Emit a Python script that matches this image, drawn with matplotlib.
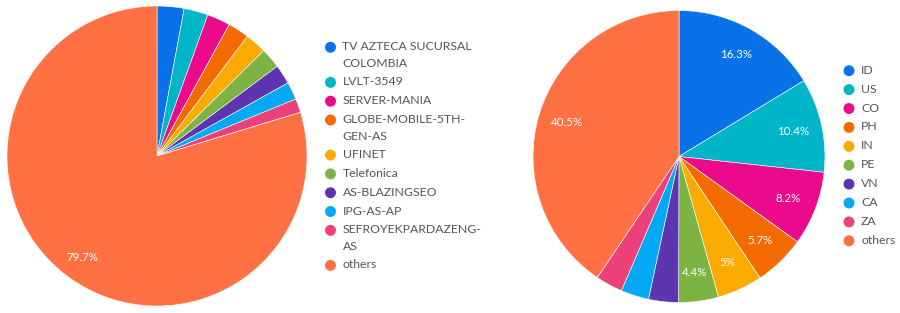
import matplotlib.pyplot as plt

# data: left pie (share of ASNs)
asn_labels = ['TV AZTECA SUCURSAL\nCOLOMBIA', 'LVLT-3549', 'SERVER-MANIA', 'GLOBE-MOBILE-5TH-\nGEN-AS',
              'UFINET', 'Telefonica', 'AS-BLAZINGSEO', 'IPG-AS-AP', 'SEFROYEKPARDAZENG-\nAS', 'others']
asn_values = [2.9, 2.6, 2.5, 2.3, 2.3, 2.2, 2.1, 1.9, 1.5, 79.7]

# data: right pie (share of countries)
country_labels = ['ID', 'US', 'CO', 'PH', 'IN', 'PE', 'VN', 'CA', 'ZA', 'others']
country_values = [16.3, 10.4, 8.2, 5.7, 5.0, 4.4, 3.3, 3.1, 3.0, 40.5]

colors = ['#0a72e8', '#00b5c8', '#ec0a8c', '#f56a00', '#fbab00',
          '#7cb342', '#5e35b1', '#03a9f4', '#ec407a', '#ff7043']

plt.rcParams['font.family'] = ['Lato', 'DejaVu Sans']
W, H = 900, 313
fig = plt.figure(figsize=(W / 100, H / 100), dpi=100)

# legend layer in pixel coordinates
leg = fig.add_axes([0, 0, 1, 1])
leg.set_xlim(0, W)
leg.set_ylim(H, 0)
leg.axis('off')


def pct_labels(values, minimum):
    return ['%g%%' % v if v >= minimum else '' for v in values]


def draw_pie(cx, cy, r, values, pctdist):
    ax = fig.add_axes([(cx - r) / W, (H - cy - r) / H, 2 * r / W, 2 * r / H])
    wedges, texts = ax.pie(values, colors=colors, startangle=90, counterclock=False,
                           labels=pct_labels(values, 4), labeldistance=pctdist,
                           wedgeprops=dict(edgecolor='white', linewidth=0.4))
    for t in texts:
        t.set_color('white')
        t.set_fontsize(8.3)
        t.set_ha('center')
        t.set_va('center')
    ax.set_xlim(-1, 1)
    ax.set_ylim(-1, 1)
    return ax


# text is drawn va='top', so shift it up by half a line
def draw_legend_rows(x, y0, labels, row_gap, line_gap):
    y = y0
    for label, c in zip(labels, colors):
        leg.scatter([x], [y], s=62, color=c, edgecolors='none', zorder=3)
        leg.text(x + 12, y - 6, label, fontsize=8.8, color='#555555', va='top',
                 ha='left', linespacing=1.65)
        y += row_gap + line_gap * label.count('\n')


draw_pie(157, 156, 150, asn_values, 0.84)
draw_pie(679, 156.5, 146, country_values, 0.8)

draw_legend_rows(330.5, 47.3, asn_labels, 18.8, 16.3)
draw_legend_rows(849, 70.7, country_labels, 18.9, 0)

plt.savefig('out.png', dpi=100)
